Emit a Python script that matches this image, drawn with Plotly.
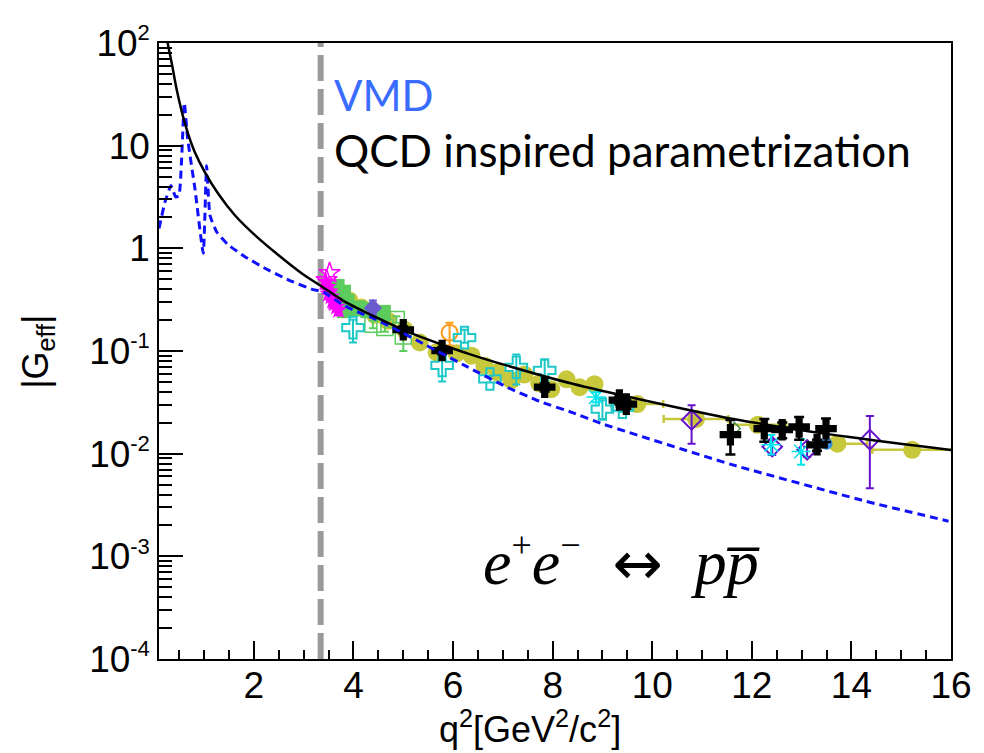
import plotly.graph_objects as go

# ---------------- data ----------------
threshold_q2 = 3.34

# QCD inspired parametrization (black solid)
qcd_q2 = [0.22, 0.268, 0.349, 0.449, 0.549, 0.682, 0.816, 1.017, 1.284, 1.618, 2.02, 2.49,
          2.956, 3.357, 3.79, 4.47, 5.13, 5.7, 6.33, 7.07, 8.4, 9.74, 11.6, 13.96, 16.0]
qcd_g = [140, 100, 63.7, 35.2, 21.7, 12.9, 8.6, 5.5, 3.4, 2.10, 1.345, 0.861,
         0.573, 0.427, 0.31, 0.211, 0.151, 0.119, 0.0933, 0.0724, 0.0479, 0.0339, 0.0219, 0.0145, 0.01086]

# VMD (blue dashed)
vmd_q2 = [0.094, 0.215, 0.335, 0.428, 0.495, 0.602, 0.67, 0.816, 0.983, 1.05, 1.117, 1.25,
          1.484, 1.82, 2.22, 2.69, 3.157, 3.4, 3.79, 4.13, 4.47, 4.87, 5.47, 6.27, 7.07, 7.73,
          8.4, 9.0, 11.6, 14.29, 15.95]
vmd_g = [1.56, 2.83, 4.09, 3.16, 3.27, 26.1, 11.6, 3.8, 0.895, 6.38, 2.1, 1.45,
         1.08, 0.83, 0.64, 0.494, 0.40, 0.375, 0.281, 0.235, 0.201, 0.161, 0.113, 0.0708, 0.0447, 0.0324,
         0.0251, 0.0195, 0.00782, 0.00344, 0.0022]

# olive filled circles
olive_q2 = [3.53, 3.72, 3.92, 4.16, 4.43, 4.69, 5.03, 5.33, 5.67, 6.07, 6.37, 6.63, 6.89,
            7.17, 7.43, 7.73, 7.97, 8.28, 8.54, 8.84, 9.70, 10.88, 12.12, 13.72, 15.22]
olive_g = [0.41, 0.35, 0.31, 0.265, 0.225, 0.197, 0.161, 0.121, 0.097, 0.095, 0.090, 0.072, 0.062,
           0.052, 0.059, 0.0485, 0.0425, 0.053, 0.0444, 0.0475, 0.0304, 0.0218, 0.0191, 0.0125, 0.0109]
olive_q2_err = [0, 0, 0, 0, 0, 0, 0, 0, 0, 0, 0, 0, 0,
                0, 0, 0, 0, 0, 0, 0, 0.52, 0.65, 0.57, 0.6, 0.8]
olive_g_err = [0.01, 0.008, 0.007, 0.006, 0.005, 0.004, 0.004, 0.003, 0.003, 0.003, 0.003, 0.002, 0.002,
               0.002, 0.002, 0.002, 0.002, 0.002, 0.002, 0.002, 0.0015, 0.0012, 0.0012, 0.001, 0.001]

# black filled crosses
black_q2 = [5.0, 5.78, 7.84, 9.34, 9.48, 11.57, 12.25, 12.61, 12.95, 13.31, 13.49]
black_g = [0.161, 0.101, 0.0444, 0.0333, 0.0304, 0.0153, 0.0175, 0.0171, 0.0182, 0.0122, 0.0175]
black_err_up = [0.012, 0.008, 0.004, 0.003, 0.003, 0.006, 0.0043, 0.003, 0.0045, 0.0015, 0.0045]
black_err_dn = [0.012, 0.008, 0.004, 0.003, 0.003, 0.0055, 0.0044, 0.003, 0.0045, 0.0015, 0.0045]

# cyan open crosses
cyan_q2 = [3.99, 5.78, 6.23, 6.74, 7.27, 7.84, 9.0, 9.4]
cyan_g = [0.169, 0.0724, 0.135, 0.0534, 0.0693, 0.0648, 0.0272, 0.0284]
cyan_err_up = [0.032, 0.012, 0.026, 0.004, 0.023, 0.018, 0.006, 0.003]
cyan_err_dn = [0.048, 0.022, 0.015, 0.004, 0.022, 0.018, 0.0054, 0.003]

# cyan asterisks
star_q2 = [8.87, 12.39, 12.99]
star_g = [0.0356, 0.0122, 0.0105]
star_err_up = [0.004, 0.003, 0.0034]
star_err_dn = [0.004, 0.0024, 0.0027]

# purple open diamonds
purple_q2 = [10.79, 12.41, 13.11, 14.37]
purple_g = [0.0213, 0.0117, 0.0109, 0.0137]
purple_err_up = [0.0084, 0.002, 0.0008, 0.0096]
purple_err_dn = [0.0088, 0.002, 0.0016, 0.0091]

# magenta stars (filled and open)
mag_q2 = [3.45, 3.48, 3.52, 3.55, 3.58, 3.62, 3.66, 3.70, 3.50, 3.60]
mag_g = [0.47, 0.42, 0.38, 0.34, 0.31, 0.29, 0.27, 0.25, 0.36, 0.30]
mag_open_q2 = [3.46, 3.52]
mag_open_g = [0.49, 0.573]

# green filled squares
gsq_q2 = [3.66, 3.79, 3.86, 3.83, 4.09, 4.30, 4.59]
gsq_g = [0.42, 0.37, 0.30, 0.25, 0.26, 0.25, 0.235]

# green open squares
gop_q2 = [4.39, 4.63, 4.86, 5.0]
gop_g = [0.182, 0.169, 0.203, 0.14]
gop_err = [0.015, 0.015, 0.015, 0.04]

# slate-blue diamond, orange open circle, small green diamond, blue circle
sb_q2, sb_g, sb_err_up, sb_err_dn = [4.39], [0.263], [0.047], [0.036]
or_q2, or_g, or_err_up, or_err_dn = [5.93], [0.151], [0.037], [0.038]
dg_q2, dg_g = [11.65], [0.0176]
bc_q2, bc_g = [13.5], [0.0125]

SUP = "<sup><span style='font-size:22px'>{}</span></sup>"
y_tick_vals = [1e-4, 1e-3, 1e-2, 1e-1, 1, 10, 100]
y_tick_text = ["10" + SUP.format("-4"), "10" + SUP.format("-3"), "10" + SUP.format("-2"),
               "10" + SUP.format("-1"), "1", "10", "10" + SUP.format("2")]

# ---------------- figure ----------------
fig = go.Figure()

fig.add_vline(x=threshold_q2, line=dict(color="#9a9a9a", width=6, dash="26px,8px"), layer="below")


def errs(up, dn, color, w=2, cap=4):
    return dict(type="data", array=up, arrayminus=dn, color=color, thickness=w, width=cap, visible=True)


fig.add_trace(go.Scatter(x=olive_q2, y=olive_g, mode="markers",
                         marker=dict(symbol="circle", size=18, color="#c8c83c"),
                         error_x=dict(type="data", array=olive_q2_err, color="#c8c83c", thickness=2.5, width=4),
                         error_y=dict(type="data", array=olive_g_err, color="#c8c83c", thickness=2, width=3)))
fig.add_trace(go.Scatter(x=gsq_q2, y=gsq_g, mode="markers",
                         marker=dict(symbol="square", size=16, color="#5ccc5c")))
fig.add_trace(go.Scatter(x=gop_q2, y=gop_g, mode="markers",
                         marker=dict(symbol="square-open", size=16, color="#5ccc5c", line=dict(width=1.5)),
                         error_y=errs(gop_err, gop_err, "#5ccc5c")))
fig.add_trace(go.Scatter(x=mag_q2, y=mag_g, mode="markers",
                         marker=dict(symbol="star", size=14, color="#ff00ff"),
                         error_y=errs([0.03] * len(mag_q2), [0.03] * len(mag_q2), "#ff00ff", 1.5, 3)))
fig.add_trace(go.Scatter(x=mag_open_q2, y=mag_open_g, mode="markers",
                         marker=dict(symbol="star-open", size=16, color="#ff00ff", line=dict(width=1.5))))
fig.add_trace(go.Scatter(x=sb_q2, y=sb_g, mode="markers",
                         marker=dict(symbol="diamond", size=14, color="#6a5acd"),
                         error_y=errs(sb_err_up, sb_err_dn, "#6a5acd")))
fig.add_trace(go.Scatter(x=or_q2, y=or_g, mode="markers",
                         marker=dict(symbol="circle-open", size=16, color="#ff9b1a", line=dict(width=2)),
                         error_y=errs(or_err_up, or_err_dn, "#ff9b1a")))
fig.add_trace(go.Scatter(x=cyan_q2, y=cyan_g, mode="markers",
                         marker=dict(symbol="cross-open", size=18, color="#1ec8c8", line=dict(width=2)),
                         error_y=errs(cyan_err_up, cyan_err_dn, "#1ec8c8")))
fig.add_trace(go.Scatter(x=dg_q2, y=dg_g, mode="markers",
                         marker=dict(symbol="diamond-open", size=9, color="#4a8a4a", line=dict(width=1.5))))
fig.add_trace(go.Scatter(x=bc_q2, y=bc_g, mode="markers",
                         marker=dict(symbol="circle", size=12, color="#3390e0")))
fig.add_trace(go.Scatter(x=purple_q2, y=purple_g, mode="markers",
                         marker=dict(symbol="diamond-open", size=15, color="#6611cc", line=dict(width=2)),
                         error_y=errs(purple_err_up, purple_err_dn, "#6611cc")))
fig.add_trace(go.Scatter(x=star_q2, y=star_g, mode="markers",
                         marker=dict(symbol="asterisk-open", size=16, color="#00e5ee", line=dict(width=1.5)),
                         error_y=errs(star_err_up, star_err_dn, "#00e5ee")))
fig.add_trace(go.Scatter(x=black_q2, y=black_g, mode="markers",
                         marker=dict(symbol="cross", size=18, color="black"),
                         error_y=errs(black_err_up, black_err_dn, "black", 2.5, 5)))

fig.add_trace(go.Scatter(x=vmd_q2, y=vmd_g, mode="lines",
                         line=dict(color="#1010ff", width=3, dash="8px,5px", shape="spline", smoothing=0.4)))
fig.add_trace(go.Scatter(x=qcd_q2, y=qcd_g, mode="lines",
                         line=dict(color="black", width=2.5, shape="spline", smoothing=0.8)))

minor_vals = [k * 10.0 ** e for e in range(-4, 2) for k in range(2, 10)]

tickfont = dict(family="Liberation Sans, Arial, sans-serif", size=37, color="black")

# page body has an 8px margin: figure is 8px smaller so the plot sits where the reference has it
fig.update_layout(
    width=976, height=745,
    margin=dict(l=151, r=32, t=30, b=94),
    paper_bgcolor="white", plot_bgcolor="white",
    showlegend=False,
    xaxis=dict(range=[0.094, 16.0], tick0=0, dtick=2, ticks="inside", ticklen=18, tickwidth=1.5,
               tickcolor="black", showline=True, linecolor="black", linewidth=1.5, mirror=True,
               showgrid=False, zeroline=False, tickfont=tickfont, ticklabelstandoff=-7,
               minor=dict(tick0=0, dtick=0.5, ticks="inside", ticklen=9, tickwidth=1.5,
                          tickcolor="black", showgrid=False)),
    yaxis=dict(type="log", range=[-4, 2], tickmode="array", tickvals=y_tick_vals, ticktext=y_tick_text,
               ticks="inside", ticklen=24, tickwidth=1.5, tickcolor="black",
               showline=True, linecolor="black", linewidth=1.5, mirror=True,
               showgrid=False, zeroline=False, tickfont=tickfont,
               minor=dict(tickmode="array", tickvals=minor_vals, ticks="inside", ticklen=13,
                          tickwidth=1.5, tickcolor="black", showgrid=False)),
)

fig.add_annotation(text="q<sup>2</sup>[GeV<sup>2</sup>/c<sup>2</sup>]", xref="paper", yref="paper",
                   x=0.468, y=-0.1505, xanchor="center", yanchor="bottom", showarrow=False,
                   font=dict(family="Liberation Sans, Arial, sans-serif", size=36, color="black"))
fig.add_annotation(text="|G<sub>eff</sub>|", xref="paper", yref="paper", textangle=-90,
                   x=-0.1538, y=0.499, xanchor="center", yanchor="middle", showarrow=False,
                   font=dict(family="Liberation Sans, Arial, sans-serif", size=36, color="black"))
fig.add_annotation(text="VMD", xref="paper", yref="paper", x=0.218, y=0.915,
                   xanchor="left", yanchor="middle", showarrow=False,
                   font=dict(family="Lato, sans-serif", size=42, color="#3a6cff"))
fig.add_annotation(text="QCD inspired parametrization", xref="paper", yref="paper", x=0.218, y=0.826,
                   xanchor="left", yanchor="middle", showarrow=False,
                   font=dict(family="Lato, sans-serif", size=44, color="black"))
fig.add_annotation(
    text=("<i>e</i><sup><span style='font-size:36px'>+</span></sup><i>e</i>"
          "<sup><span style='font-size:36px'>\u2212</span></sup>  "
          "<span style='font-family:DejaVu Sans;font-size:60px'>\u2194</span>  <i>p</i><i>p\u0305</i>"),
    xref="paper", yref="paper", x=0.5845, y=0.159, xanchor="center", yanchor="middle",
    showarrow=False,
    font=dict(family="Liberation Serif, DejaVu Serif, serif", size=64, color="black"))

fig.write_html("out.html")
